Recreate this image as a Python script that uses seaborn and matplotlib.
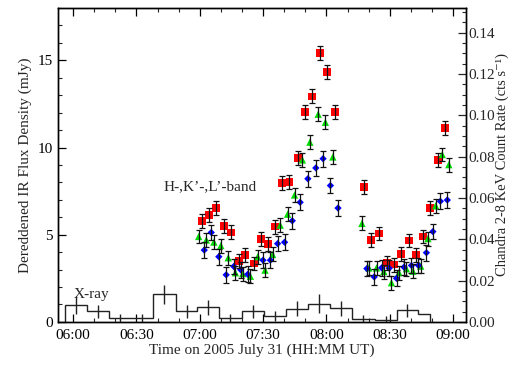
import matplotlib
matplotlib.use("Agg")
import numpy as np
import pandas as pd
import matplotlib.pyplot as plt
import seaborn as sns
from matplotlib.ticker import MultipleLocator, FuncFormatter

# ---------------- data (time in decimal hours UT) ----------------
red_t = [7.017, 7.072, 7.127, 7.189, 7.245, 7.311, 7.360, 7.425, 7.484, 7.539,
         7.594, 7.649, 7.708, 7.773, 7.832, 7.889, 7.952, 8.007, 8.070, 8.298,
         8.353, 8.416, 8.479, 8.531, 8.590, 8.652, 8.707, 8.762, 8.817, 8.880, 8.938]
red_f = [5.80, 6.11, 6.51, 5.49, 5.13, 3.47, 3.83, 3.35, 4.78, 4.45,
         5.47, 7.99, 8.02, 9.40, 12.02, 12.93, 15.42, 14.34, 12.02, 7.73,
         4.68, 5.07, 3.39, 3.29, 3.91, 4.67, 3.86, 4.90, 6.51, 9.31, 11.14]
red_err = 0.40

green_t = [6.991, 7.051, 7.111, 7.166, 7.224, 7.281, 7.339, 7.399, 7.457, 7.515,
           7.575, 7.635, 7.693, 7.748, 7.810, 7.869, 7.934, 7.991, 8.050, 8.280,
           8.335, 8.395, 8.453, 8.513, 8.572, 8.631, 8.683, 8.744, 8.801, 8.862,
           8.914, 8.966]
green_f = [4.90, 4.70, 4.58, 4.38, 3.68, 2.82, 2.77, 2.62, 3.74, 2.97,
           3.87, 5.55, 6.18, 7.28, 9.29, 10.31, 11.91, 11.45, 9.46, 5.65,
           3.10, 3.10, 2.89, 2.25, 2.83, 3.05, 2.91, 3.20, 4.78, 6.66,
           9.60, 9.02]
green_err = 0.40

blue_t = [7.035, 7.090, 7.150, 7.208, 7.268, 7.323, 7.378, 7.499, 7.557, 7.614,
          7.669, 7.730, 7.792, 7.853, 7.916, 7.973, 8.031, 8.091, 8.319, 8.377,
          8.435, 8.495, 8.553, 8.612, 8.671, 8.726, 8.789, 8.840, 8.899, 8.954]
blue_f = [4.12, 5.13, 3.74, 2.70, 3.18, 2.99, 2.73, 3.54, 3.54, 4.49,
          4.57, 5.80, 6.86, 8.21, 8.83, 9.36, 7.82, 6.53, 3.06, 2.58,
          3.10, 3.08, 2.50, 3.14, 3.24, 3.24, 3.97, 5.18, 6.92, 6.99]
blue_err = 0.45

xray_edges = [5.932, 6.110, 6.285, 6.456, 6.627, 6.810, 6.980, 7.150, 7.334,
              7.504, 7.680, 7.858, 8.028, 8.199, 8.382, 8.553, 8.722, 8.814]
xray_rate = [0.0083, 0.0052, 0.0018, 0.0018, 0.0133, 0.0052, 0.0071, 0.0018,
             0.0052, 0.0027, 0.0064, 0.0088, 0.0067, 0.0015, 0.0011, 0.0056, 0.0036]
xray_err = [0.0043, 0.0032, 0.0020, 0.0020, 0.0044, 0.0032, 0.0036, 0.0020,
            0.0032, 0.0024, 0.0035, 0.0045, 0.0036, 0.0019, 0.0016, 0.0033]

x_ticks = [6.0, 6.5, 7.0, 7.5, 8.0, 8.5, 9.0]

# ---------------- style ----------------
sns.set_theme(style="ticks")
plt.rcParams['font.family'] = ['Liberation Serif', 'DejaVu Serif']
plt.rcParams['axes.linewidth'] = 1.0

FS = 11
fig = plt.figure(figsize=(5.13, 3.65), dpi=100)
ax = fig.add_axes([0.113, 0.118, 0.795, 0.860])
ax2 = ax.twinx()

# ---------------- X-ray histogram ----------------
centers = [(a + b) / 2 for a, b in zip(xray_edges[:-2], xray_edges[1:-1])]
ax2.stairs(xray_rate, xray_edges, baseline=0, color='#222222', lw=1.0)
ax2.errorbar(centers, xray_rate[:len(xray_err)], yerr=xray_err, fmt='none',
             ecolor='#222222', elinewidth=1.0, capsize=0)

# ---------------- IR points ----------------
df = pd.concat([
    pd.DataFrame({'t': red_t, 'f': red_f, 'band': 'L'}),
    pd.DataFrame({'t': green_t, 'f': green_f, 'band': 'K'}),
    pd.DataFrame({'t': blue_t, 'f': blue_f, 'band': 'H'}),
])
styles = {'L': ('s', '#ff0000', 32, red_err),
          'K': ('^', '#00dd00', 28, green_err),
          'H': ('D', '#0000ff', 14, blue_err)}
for band in ['L', 'K', 'H']:
    sub = df[df['band'] == band]
    m, c, s, e = styles[band]
    sns.scatterplot(data=sub, x='t', y='f', marker=m, color=c, s=s,
                    edgecolor='none', linewidth=0, ax=ax, zorder=3, legend=False)
    ax.errorbar(sub['t'], sub['f'], yerr=e, fmt='none', ecolor='#111111',
                elinewidth=0.9, capsize=2.0, capthick=0.9, zorder=4)

# ---------------- axes ----------------
ax.set_xlim(5.88, 9.10)
ax.set_ylim(0, 18)
ax2.set_ylim(0, 0.152)
ax.set_xticks(x_ticks)
ax.xaxis.set_minor_locator(MultipleLocator(1 / 6))
ax.yaxis.set_major_locator(MultipleLocator(5))
ax.yaxis.set_minor_locator(MultipleLocator(1))
ax2.yaxis.set_major_locator(MultipleLocator(0.02))
ax2.yaxis.set_minor_locator(MultipleLocator(0.005))


def hhmm(v, _):
    mins = int(round(v * 60))
    return f"{mins // 60:02d}:{mins % 60:02d}"


ax.xaxis.set_major_formatter(FuncFormatter(hhmm))
ax2.yaxis.set_major_formatter(FuncFormatter(lambda v, _: f"{v:.2f}"))

ax.tick_params(axis='both', which='major', direction='in', length=6, width=0.9,
               labelsize=FS, top=True, right=False, colors='black')
ax.tick_params(axis='both', which='minor', direction='in', length=3, width=0.8,
               top=True, right=False)
ax2.tick_params(axis='y', which='major', direction='in', length=6, width=0.9,
                labelsize=FS, pad=1.5)
ax2.tick_params(axis='y', which='minor', direction='in', length=3, width=0.8)
ax.tick_params(axis='x', pad=5)

ax.set_xlabel("Time on 2005 July 31 (HH:MM UT)", fontsize=FS, labelpad=1)
ax.set_ylabel("Dereddened IR Flux Density (mJy)", fontsize=FS, labelpad=4)
ax2.set_ylabel("Chandra 2-8 KeV Count Rate (cts s\u207b\u00b9)", fontsize=10.5,
               labelpad=0.5, family=['Liberation Serif', 'DejaVu Serif'])

ax.text(6.0, 1.56, "X-ray", fontsize=FS, va='center', ha='left')
ax.text(6.716, 7.77, "H-,K\u2019-,L\u2019-band", fontsize=FS, va='center', ha='left')

for a in (ax, ax2):
    for sp in a.spines.values():
        sp.set_color('black')
        sp.set_linewidth(1.0)

fig.savefig("out.png", dpi=100)
